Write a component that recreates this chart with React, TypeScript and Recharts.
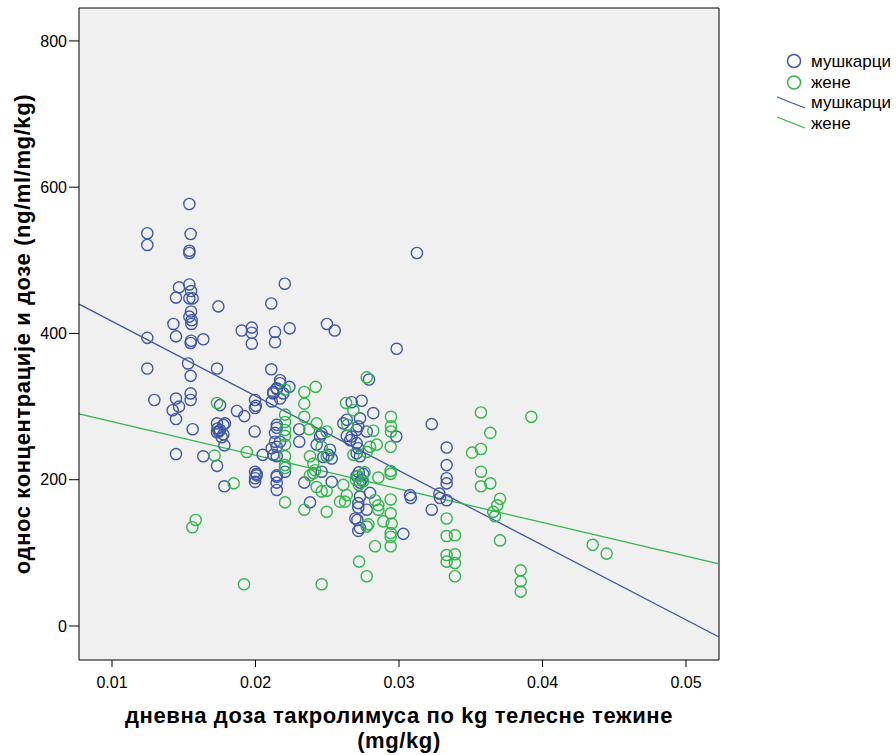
import React from 'react';
import { ScatterChart, Scatter, XAxis, YAxis, CartesianGrid, ReferenceLine } from 'recharts';

const BLUE = '#3E58AC';
const GREEN = '#2EB848';
const FONT = '"Liberation Sans", Arial, sans-serif';

const seriesNames = ['мушкарци', 'жене'];
const xTitle = 'дневна доза такролимуса по kg телесне тежине';
const xTitle2 = '(mg/kg)';
const yTitle = 'однос концентрације и дозе (ng/ml/mg/kg)';

const xTicks = [0.01, 0.02, 0.03, 0.04, 0.05];
const yTicks = [0, 200, 400, 600, 800];
const xDomain = [0.0077, 0.0523];
const yDomain = [-46.5, 845];

const menDose = [
  0.01539, 0.01246, 0.01548, 0.01246, 0.01539, 0.01539, 0.03125, 0.02204, 0.01539, 0.01467,
  0.01551, 0.01446, 0.01539, 0.01562, 0.01741, 0.0211, 0.01551, 0.01539, 0.01555, 0.01553,
  0.01428, 0.02498, 0.02552, 0.02238, 0.01904, 0.01974, 0.01974, 0.01974, 0.02136, 0.02136,
  0.01446, 0.01246, 0.01551, 0.01636, 0.01548, 0.02984, 0.01246, 0.0153, 0.01732, 0.01548,
  0.0211, 0.01295, 0.01446, 0.01548, 0.01548, 0.01753, 0.01871, 0.01922, 0.01423, 0.01467,
  0.01446, 0.01562, 0.01732, 0.01776, 0.01787, 0.01732, 0.01753, 0.01776, 0.01765, 0.01783,
  0.01446, 0.01636, 0.01732, 0.01994, 0.01997, 0.01997, 0.02002, 0.02113, 0.02124, 0.02148,
  0.0205, 0.01997, 0.02008, 0.02148, 0.01783, 0.01997, 0.02008, 0.01997, 0.02148, 0.02148,
  0.02791, 0.02171, 0.02171, 0.02148, 0.02124, 0.02171, 0.02194, 0.02236, 0.0267, 0.0274,
  0.02821, 0.03228, 0.02981, 0.03332, 0.03332, 0.03332, 0.02612, 0.02636, 0.02728, 0.02716,
  0.02705, 0.02636, 0.0267, 0.02659, 0.02705, 0.02716, 0.02705, 0.02728, 0.02775, 0.02305,
  0.02305, 0.02461, 0.0245, 0.02426, 0.02519, 0.02531, 0.02473, 0.02508, 0.02136, 0.02148,
  0.02113, 0.02124, 0.02148, 0.01735, 0.01745, 0.02206, 0.02148, 0.0234, 0.02461, 0.02531,
  0.0238, 0.02798, 0.02728, 0.02716, 0.02716, 0.02775, 0.02696, 0.0271, 0.02716, 0.02728,
  0.0303, 0.03077, 0.03082, 0.03281, 0.03286, 0.03228, 0.03332, 0.03332, 0.02705, 0.0272,
  0.0274, 0.0275, 0.02728, 0.02148, 0.02148, 0.02136, 0.02171,
];
const menRatio = [
  577, 537, 536, 521, 513, 510, 510, 468, 467, 463,
  458, 449, 448, 448, 437, 441, 430, 423, 418, 413,
  413, 413, 404, 407, 404, 408, 401, 386, 402, 388,
  396, 394, 390, 392, 387, 379, 352, 359, 352, 342,
  351, 309, 311, 318, 309, 302, 294, 287, 295, 300,
  283, 269, 277, 275, 277, 265, 268, 262, 258, 247,
  235, 232, 219, 266, 309, 298, 301, 307, 318, 324,
  234, 211, 208, 206, 191, 202, 206, 197, 196, 186,
  337, 336, 332, 325, 320, 311, 318, 327, 306, 308,
  291, 276, 259, 244, 220, 202, 277, 282, 284, 273,
  268, 260, 259, 254, 250, 243, 236, 232, 266, 269,
  252, 263, 259, 248, 241, 229, 231, 234, 252, 245,
  243, 234, 232, 270, 266, 211, 204, 196, 211, 197,
  169, 182, 177, 168, 162, 159, 147, 145, 130, 134,
  126, 179, 175, 181, 175, 159, 195, 172, 205, 210,
  200, 208, 196, 275, 271, 264, 252,
];

const womenDose = [
  0.01732, 0.01715, 0.01939, 0.01848, 0.01583, 0.0156, 0.0192, 0.02775, 0.02206, 0.02419,
  0.0234, 0.0234, 0.02631, 0.02682, 0.02944, 0.02944, 0.02944, 0.02942, 0.0234, 0.02206,
  0.02206, 0.02206, 0.02206, 0.02206, 0.02206, 0.02206, 0.02206, 0.02426, 0.02496, 0.02375,
  0.02821, 0.02461, 0.02496, 0.0238, 0.02403, 0.02415, 0.02682, 0.02775, 0.02798, 0.02845,
  0.02206, 0.0238, 0.02403, 0.02426, 0.02461, 0.02496, 0.0234, 0.02496, 0.02612, 0.02636,
  0.02624, 0.02589, 0.02856, 0.02942, 0.02942, 0.02833, 0.02856, 0.02856, 0.02942, 0.02942,
  0.02891, 0.02949, 0.02775, 0.02787, 0.02942, 0.02942, 0.02942, 0.02833, 0.02722, 0.02775,
  0.02461, 0.03332, 0.03332, 0.03332, 0.03332, 0.0339, 0.0339, 0.0339, 0.0339, 0.03571,
  0.03571, 0.03636, 0.03704, 0.03685, 0.03657, 0.03669, 0.03704, 0.03848, 0.03848, 0.03848,
  0.0435, 0.04447, 0.03571, 0.03922, 0.03636, 0.03571, 0.03509, 0.0264, 0.027, 0.02716,
  0.0275, 0.0276, 0.0272,
];
const womenRatio = [
  305, 233, 238, 195, 145, 135, 57, 340, 323, 327,
  320, 304, 305, 295, 286, 273, 266, 245, 286, 289,
  279, 268, 260, 248, 232, 220, 216, 277, 266, 269,
  267, 245, 232, 232, 222, 213, 234, 238, 245, 248,
  169, 206, 209, 190, 184, 185, 159, 156, 193, 179,
  170, 170, 203, 208, 212, 172, 165, 159, 173, 154,
  143, 140, 136, 139, 127, 122, 109, 109, 88, 68,
  57, 147, 123, 97, 88, 124, 98, 86, 68, 211,
  191, 195, 174, 165, 156, 150, 117, 76, 61, 47,
  111, 99, 292, 286, 264, 242, 237, 275, 200, 205,
  198, 210, 193,
];

// regression line end points (dose, fitted ratio)
const fitDose = [0.0077, 0.0523];
const menFit = [440, -15];
const womenFit = [290, 85];

const menData = menDose.map((x, i) => ({ x, y: menRatio[i] }));
const womenData = womenDose.map((x, i) => ({ x, y: womenRatio[i] }));

const makeCircle = (color: string) => (props: any) => {
  const { cx, cy } = props;
  if (cx == null || cy == null) return <g />;
  return <circle cx={cx} cy={cy} r={5.6} fill="none" stroke={color} strokeWidth={1.4} />;
};

const XTitle = (props: any) => {
  const vb = props.viewBox || {};
  const cx = vb.x + vb.width / 2;
  return (
    <g>
      <text x={cx} y={vb.y + 63} textAnchor="middle" fontFamily={FONT} fontWeight="bold" fontSize={22} letterSpacing={0.6} fill="#000">
        {xTitle}
      </text>
      <text x={cx} y={vb.y + 88} textAnchor="middle" fontFamily={FONT} fontWeight="bold" fontSize={22} letterSpacing={0.6} fill="#000">
        {xTitle2}
      </text>
    </g>
  );
};

const YTitle = (props: any) => {
  const vb = props.viewBox || {};
  const cy = vb.y + vb.height / 2;
  const x = 30;
  return (
    <text x={x} y={cy} transform={`rotate(-90, ${x}, ${cy})`} textAnchor="middle" fontFamily={FONT} fontWeight="bold" fontSize={22} letterSpacing={0.6} fill="#000">
      {yTitle}
    </text>
  );
};

const tickStyle = { fill: '#000', fontSize: 16, fontFamily: FONT };

const Legend = () => (
  <svg width={126} height={140} style={{ position: 'absolute', left: 770, top: 0 }}>
    <circle cx={24} cy={61} r={6.5} fill="none" stroke={BLUE} strokeWidth={1.5} />
    <text x={41} y={67} fontFamily={FONT} fontSize={17} fill="#000">{seriesNames[0]}</text>
    <circle cx={24} cy={82.5} r={6.5} fill="none" stroke={GREEN} strokeWidth={1.5} />
    <text x={41} y={88} fontFamily={FONT} fontSize={17} fill="#000">{seriesNames[1]}</text>
    <line x1={7} y1={97} x2={35} y2={108} stroke={BLUE} strokeWidth={1.3} />
    <text x={41} y={108} fontFamily={FONT} fontSize={17} fill="#000">{seriesNames[0]}</text>
    <line x1={7} y1={117} x2={35} y2={128} stroke={GREEN} strokeWidth={1.3} />
    <text x={41} y={129} fontFamily={FONT} fontSize={17} fill="#000">{seriesNames[1]}</text>
  </svg>
);

export default function App() {
  return (
    <div style={{ position: 'absolute', left: 0, top: 0, width: 896, height: 755, background: '#fff' }}>
      <ScatterChart width={896} height={755} margin={{ top: 8, right: 177, bottom: 65, left: 0 }}>
        <CartesianGrid fill="#f0f0f0" horizontal={false} vertical={false} />
        <XAxis
          type="number"
          dataKey="x"
          domain={xDomain}
          allowDataOverflow
          ticks={xTicks}
          tickFormatter={(v: number) => v.toFixed(2)}
          stroke="#000"
          tick={tickStyle}
          tickSize={7}
          tickMargin={10}
          height={30}
          label={<XTitle />}
        />
        <YAxis
          type="number"
          dataKey="y"
          domain={yDomain}
          allowDataOverflow
          ticks={yTicks}
          stroke="#000"
          tick={tickStyle}
          tickSize={10}
          tickMargin={2}
          width={79}
          label={<YTitle />}
        />
        <ReferenceLine y={yDomain[1]} stroke="#000" strokeWidth={1} />
        <ReferenceLine x={xDomain[1]} stroke="#000" strokeWidth={1} />
        <Scatter name={seriesNames[0]} data={menData} shape={makeCircle(BLUE)} isAnimationActive={false} />
        <Scatter name={seriesNames[1]} data={womenData} shape={makeCircle(GREEN)} isAnimationActive={false} />
        <ReferenceLine
          segment={[{ x: fitDose[0], y: menFit[0] }, { x: fitDose[1], y: menFit[1] }]}
          stroke={BLUE}
          strokeWidth={1.3}
        />
        <ReferenceLine
          segment={[{ x: fitDose[0], y: womenFit[0] }, { x: fitDose[1], y: womenFit[1] }]}
          stroke={GREEN}
          strokeWidth={1.3}
        />
      </ScatterChart>
      <Legend />
    </div>
  );
}
